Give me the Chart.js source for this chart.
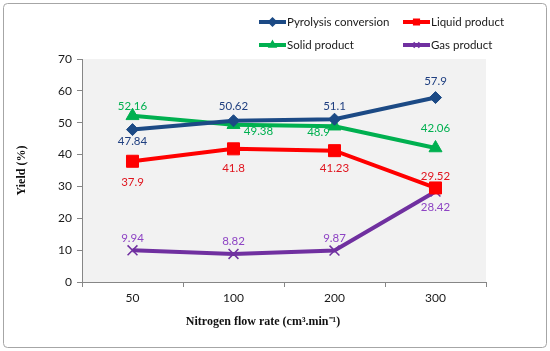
<!DOCTYPE html>
<html>
<head>
<meta charset="utf-8">
<script src="https://cdn.jsdelivr.net/npm/chart.js@4/dist/chart.umd.min.js"></script>
<style>
  html, body { margin: 0; padding: 0; background: #fff; }
  #wrap { width: 550px; height: 351px; }
</style>
</head>
<body>
<div id="wrap"><canvas id="chart" width="550" height="351"></canvas></div>
<script>
const flowRates = ["50", "100", "200", "300"];
const pyrolysis = [47.84, 50.62, 51.1, 57.9];
const liquid = [37.9, 41.8, 41.23, 29.52];
const solid = [52.16, 49.38, 48.9, 42.06];
const gas = [9.94, 8.82, 9.87, 28.42];
const yTicks = [0, 10, 20, 30, 40, 50, 60, 70];

// label offsets from the point (px), per dataset
const labelPos = [
  [[0, 12], [0, -14], [0, -13], [0, -16]],
  [[0, 21], [0, 19], [0, 18], [0, -12]],
  [[0, -10], [25, 7], [-16, 6], [0, -20]],
  [[0, -12], [0, -13], [0, -12], [0, 16]],
];

const textFont = "Lato, 'Open Sans', sans-serif";
const serifFont = "'Liberation Serif', 'Times New Roman', serif";

const frame = {
  id: "frame",
  beforeDraw(chart) {
    const { ctx, chartArea: a } = chart;
    ctx.save();
    ctx.fillStyle = "#fff";
    ctx.fillRect(0, 0, chart.width, chart.height);
    ctx.strokeStyle = "#a6a6a6";
    ctx.lineWidth = 1;
    ctx.beginPath();
    ctx.roundRect(3.5, 3.5, 543, 344, 4);
    ctx.stroke();
    ctx.fillStyle = "#f2f2f2";
    ctx.fillRect(a.left, a.top, a.right - a.left, a.bottom - a.top);
    ctx.restore();
  },
};

const dataLabels = {
  id: "dataLabels",
  afterDatasetsDraw(chart) {
    const { ctx } = chart;
    ctx.save();
    ctx.font = "11.5px " + textFont;
    ctx.textAlign = "center";
    ctx.textBaseline = "middle";
    chart.data.datasets.forEach((ds, i) => {
      const meta = chart.getDatasetMeta(i);
      ctx.fillStyle = ds.labelColor;
      meta.data.forEach((pt, j) => {
        const off = labelPos[i][j];
        ctx.fillText(String(ds.data[j]), pt.x + off[0], pt.y + off[1]);
      });
    });
    ctx.restore();
  },
};

const legendBox = {
  id: "legendBox",
  afterDraw(chart) {
    const { ctx } = chart;
    const spots = [[259, 22], [403, 22], [259, 45], [403, 45]];
    ctx.save();
    ctx.font = "11.5px " + textFont;
    ctx.textBaseline = "middle";
    chart.data.datasets.forEach((ds, i) => {
      const [x, y] = spots[i];
      ctx.strokeStyle = ds.borderColor;
      ctx.lineWidth = 4;
      ctx.beginPath();
      ctx.moveTo(x, y);
      ctx.lineTo(x + 27, y);
      ctx.stroke();
      ctx.fillStyle = ds.borderColor;
      ctx.lineWidth = 1.5;
      Chart.helpers.drawPoint(ctx, { pointStyle: ds.pointStyle, radius: 4, borderWidth: 1.5 }, x + 13.5, y);
      ctx.fillStyle = "#1a1a1a";
      ctx.fillText(ds.label, x + 28, y);
    });

    // x axis title, placed as in the original
    ctx.font = "bold 12px " + serifFont;
    ctx.textAlign = "center";
    ctx.fillStyle = "#111";
    ctx.fillText("Nitrogen flow rate (cm\u00b3.min\u207b\u00b9)", 263, 322);
    ctx.restore();
  },
};

function series(label, data, color, labelColor, style, radius) {
  return {
    label, data,
    borderColor: color,
    backgroundColor: color,
    pointBackgroundColor: color,
    pointBorderColor: color,
    pointStyle: style,
    pointRadius: radius,
    pointBorderWidth: style === "crossRot" ? 1.5 : 1,
    borderWidth: 4,
    labelColor,
  };
}

new Chart(document.getElementById("chart"), {
  type: "line",
  data: {
    labels: flowRates,
    datasets: [
      series("Pyrolysis conversion", pyrolysis, "#1c4a85", "#1f3f80", "rectRot", 6),
      series("Liquid product", liquid, "#ff0000", "#e0141e", "rect", 8.5),
      series("Solid product", solid, "#00b050", "#00b050", "triangle", 7.5),
      series("Gas product", gas, "#7030a0", "#8e44c4", "crossRot", 7),
    ],
  },
  options: {
    responsive: false,
    animation: false,
    layout: { padding: { top: 59, right: 64, bottom: 0, left: 15 } },
    plugins: { legend: { display: false }, tooltip: { enabled: false } },
    scales: {
      x: {
        offset: true,
        grid: { offset: true, drawOnChartArea: false, drawTicks: true, tickLength: 5, color: "#868686" },
        border: { color: "#868686" },
        ticks: { color: "#1a1a1a", font: { family: textFont, size: 12 }, padding: 4 },
        afterFit(scale) { scale.height = 69; },
      },
      y: {
        min: 0, max: 70,
        afterBuildTicks(scale) { scale.ticks = yTicks.map(v => ({ value: v })); },
        grid: { drawOnChartArea: false, drawTicks: true, tickLength: 5, color: "#868686" },
        border: { color: "#868686" },
        ticks: { color: "#1a1a1a", font: { family: textFont, size: 12 }, padding: 5 },
        title: {
          display: true,
          text: "Yield (%)",
          color: "#111",
          font: { family: serifFont, size: 12, weight: "bold" },
          padding: { top: 0, bottom: 0 },
        },
        afterFit(scale) { scale.width = 67; },
      },
    },
  },
  plugins: [frame, dataLabels, legendBox],
});
</script>
</body>
</html>
